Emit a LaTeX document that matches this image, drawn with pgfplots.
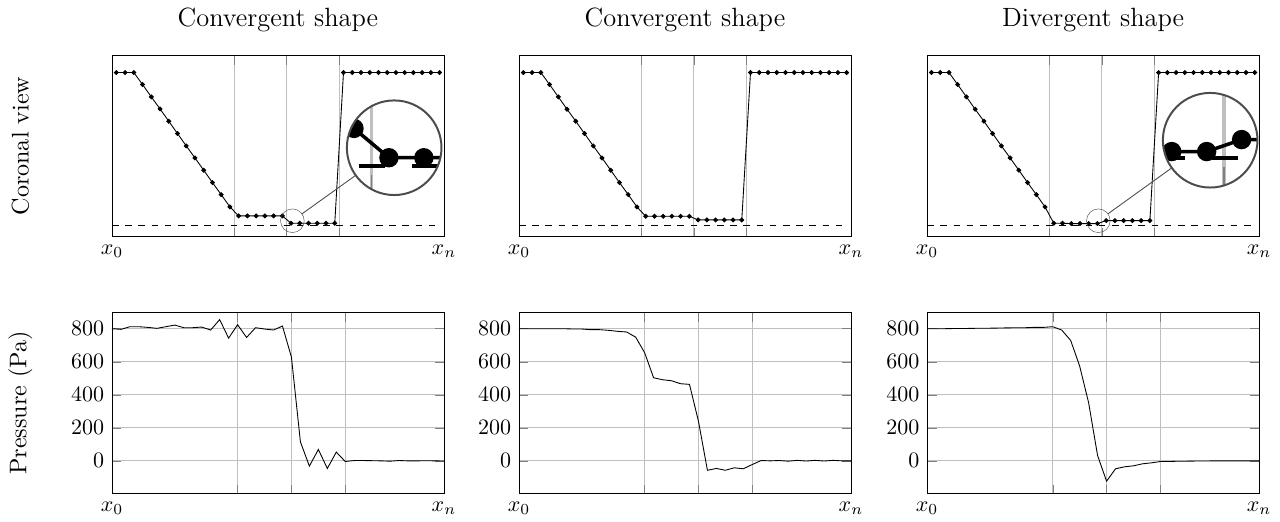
\documentclass[border=0pt]{standalone}
\usepackage{pgfplots}
\pgfplotsset{compat=1.18}
\usetikzlibrary{spy}

\pgfplotsset{
  every axis title/.style={at={(0.5,1)}, anchor=base, yshift=13pt, font=\large},
  topax/.style={scale only axis, width=150.9pt, height=82.6pt,
    xmin=-0.5, xmax=37.5, ymin=0, ymax=545,
    xtick={-0.5,13.5,19.5,25.5,37.5}, xticklabels={$x_0$,,,,$x_n$},
    ytick=\empty, xmajorgrids, anchor=south west},
  botax/.style={scale only axis, width=150.9pt, height=82.6pt,
    xmin=0, xmax=37, ymin=-200, ymax=900,
    xtick={0,14,20,26,37}, xticklabels={$x_0$,,,,$x_n$},
    ytick={0,200,400,600,800}, grid=major, anchor=south west},
  ylab/.style={ylabel style={at={(rel axis cs:-0.2757,0.5)}, anchor=center, font=\fontsize{10.95}{13}\selectfont}},
  geo/.style={black, mark=*, mark size=0.9pt},
  ref/.style={black, dashed},
  pres/.style={black},
}

\begin{document}
\begin{tikzpicture}[spy using outlines={circle, draw=black!70, magnification=4, size=43pt, connect spies}]
\useasboundingbox (-50.9pt,-12.73pt) rectangle (530.9pt,224.5pt);

% ---------- top row ----------
\begin{axis}[topax, at={(0pt,116.8pt)}, title={Convergent shape}, ylab, ylabel={Coronal view}]
\addplot[geo] coordinates {(0,493)(1,493)(2,493)(3,457)(4,420)(5,384)(6,347)(7,310)(8,273)(9,237)(10,200)(11,163)(12,127)(13,90)(14,63)(15,63)(16,63)(17,63)(18,63)(19,63)(20,41)(21,41)(22,41)(23,41)(24,41)(25,41)(26,493)(27,493)(28,493)(29,493)(30,493)(31,493)(32,493)(33,493)(34,493)(35,493)(36,493)(37,493)};
\addplot[ref] coordinates {(-0.5,35)(37,35)};
\coordinate (s1) at (axis cs:20.15,48.5);
\coordinate (m1) at (axis cs:31.8,267.5);
\end{axis}

\begin{axis}[topax, at={(185pt,116.8pt)}, title={Convergent shape}]
\addplot[geo] coordinates {(0,493)(1,493)(2,493)(3,457)(4,420)(5,383)(6,347)(7,310)(8,273)(9,237)(10,200)(11,163)(12,127)(13,90)(14,62)(15,62)(16,62)(17,62)(18,62)(19,62)(20,51)(21,51)(22,51)(23,51)(24,51)(25,51)(26,493)(27,493)(28,493)(29,493)(30,493)(31,493)(32,493)(33,493)(34,493)(35,493)(36,493)(37,493)};
\addplot[ref] coordinates {(-0.5,35)(37,35)};
\end{axis}

\begin{axis}[topax, at={(370.5pt,116.8pt)}, title={Divergent shape}]
\addplot[geo] coordinates {(0,493)(1,493)(2,493)(3,457)(4,420)(5,383)(6,347)(7,310)(8,273)(9,237)(10,200)(11,163)(12,127)(13,90)(14,41)(15,41)(16,40)(17,40)(18,40)(19,40)(20,49)(21,49)(22,49)(23,49)(24,49)(25,49)(26,493)(27,493)(28,493)(29,493)(30,493)(31,493)(32,493)(33,493)(34,493)(35,493)(36,493)(37,493)};
\addplot[ref] coordinates {(-0.5,35)(37,35)};
\coordinate (s3) at (axis cs:19.1,48.5);
\coordinate (m3) at (axis cs:31.9,290);
\end{axis}

% ---------- bottom row ----------
\begin{axis}[botax, at={(0pt,0pt)}, ylab, ylabel={Pressure (Pa)}]
\addplot[pres] coordinates {(0,800)(1,796)(2,812)(3,812)(4,808)(5,802)(6,812)(7,822)(8,806)(9,806)(10,810)(11,792)(12,855)(13,743)(14,824)(15,747)(16,806)(17,798)(18,792)(19,816)(20,628)(21,115)(22,-32)(23,69)(24,-46)(25,53)(26,-4)(27,2)(28,2)(29,1)(30,0)(31,-2)(32,2)(33,0)(34,0)(35,1)(36,0)(37,-1)};
\end{axis}

\begin{axis}[botax, at={(185pt,0pt)}]
\addplot[pres] coordinates {(0,800)(1,800)(2,800)(3,800)(4,800)(5,800)(6,798)(7,798)(8,794)(9,794)(10,790)(11,784)(12,780)(13,749)(14,655)(15,503)(16,491)(17,485)(18,467)(19,463)(20,240)(21,-57)(22,-46)(23,-57)(24,-42)(25,-48)(26,-22)(27,2)(28,0)(29,2)(30,-2)(31,3)(32,-1)(33,3)(34,-1)(35,3)(36,0)(37,0)};
\end{axis}

\begin{axis}[botax, at={(370.5pt,0pt)}]
\addplot[pres] coordinates {(0,800)(1,800)(2,800)(3,801)(4,801)(5,802)(6,803)(7,803)(8,804)(9,805)(10,806)(11,806)(12,808)(13,808)(14,812)(15,792)(16,729)(17,574)(18,352)(19,32)(20,-123)(21,-48)(22,-36)(23,-30)(24,-18)(25,-12)(26,-4)(27,-4)(28,-2)(29,-2)(30,-1)(31,-1)(32,0)(33,0)(34,0)(35,0)(36,0)(37,0)};
\end{axis}

\spy on (s1) in node[line width=0.9pt] at (m1);
\spy on (s3) in node[line width=0.9pt] at (m3);
\end{tikzpicture}
\end{document}
